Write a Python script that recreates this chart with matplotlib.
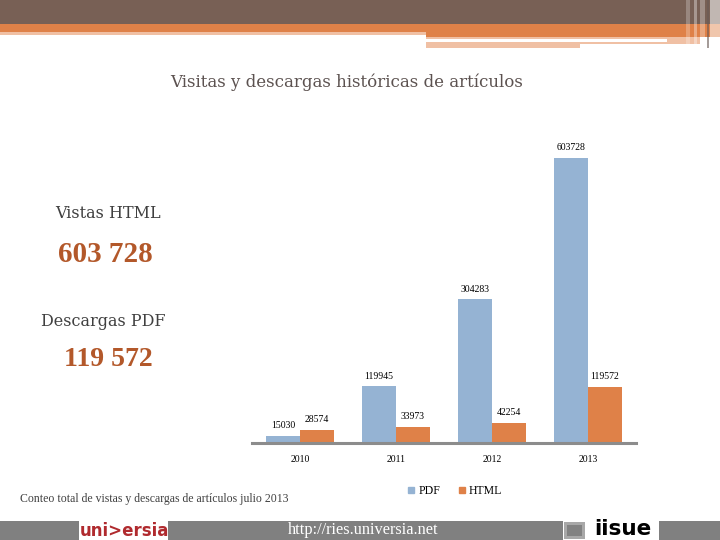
import matplotlib
matplotlib.use("Agg")
import numpy as np
import matplotlib.pyplot as plt
from matplotlib.patches import Rectangle
from matplotlib.lines import Line2D

# ===== Data =====
years = ["2010", "2011", "2012", "2013"]
pdf_vals = [15030, 119945, 304283, 603728]
html_vals = [28574, 33973, 42254, 119572]
title = "Visitas y descargas históricas de artículos"
caption = "Conteo total de vistas y descargas de artículos julio 2013"
total_html = "603 728"
total_pdf = "119 572"

# ===== Colors / fonts =====
BLUE = "#95b3d3"
ORANGE = "#df8148"
BROWN = "#786055"
PEACH = "#f0c0a4"
NUM_COLOR = "#b3582a"
SERIF = ["Liberation Serif", "DejaVu Serif"]
WIDE_SERIF = ["DejaVu Serif"]
W, H = 720, 540

fig = plt.figure(figsize=(7.2, 5.4), dpi=100)
fig.patch.set_facecolor("white")

# background axes in pixel coordinates (y down)
bg = fig.add_axes([0, 0, 1, 1])
bg.set_xlim(0, W)
bg.set_ylim(H, 0)
bg.axis("off")

def rect(x, y, w, h, c, **kw):
    bg.add_patch(Rectangle((x, y), w, h, facecolor=c, edgecolor="none", **kw))

# --- header bands ---
rect(0, 0, W, 24, BROWN)
rect(0, 24, 426, 8, ORANGE)
rect(0, 32, 426, 3, PEACH)
rect(426, 24, 294, 13, ORANGE)
rect(426, 37, 274, 7, PEACH)
rect(426, 39, 241, 2.5, "white")
rect(426, 44, 154, 3.5, PEACH)
# vertical stripes on the right
rect(686, 0, 4, 48, "white", alpha=0.25)
rect(694, 0, 3, 48, "white", alpha=0.35)
rect(700, 0, 5, 48, "white", alpha=0.3)
rect(707, 0, 1.5, 48, "#6a5a55", alpha=0.6)
rect(710, 0, 10, 48, "white", alpha=0.55)

# --- footer ---
rect(0, 521, W, 19, "#808080")
rect(79, 521, 89, 19, "white")
rect(563, 521, 96, 19, "white")
rect(564, 522, 21, 17, "#a8a8a8")
rect(567, 525, 15, 11, "#6a6a6a", alpha=0.6)
bg.text(124, 530.5, "uni>ersia", color="#b02a2e", fontsize=12, fontweight="bold",
        ha="center", va="center", family="DejaVu Sans")
bg.text(623, 529, "iisue", color="black", fontsize=15.5, fontweight="heavy",
        ha="center", va="center", family="DejaVu Sans")
bg.text(363, 530, "http://ries.universia.net", color="white", fontsize=11.8,
        ha="center", va="center", family=SERIF)

# --- texts ---
bg.text(347, 82, title, color="#5c5250", fontsize=12, ha="center", va="center",
        family=WIDE_SERIF)
bg.text(55, 214, "Vistas HTML", color="#404040", fontsize=11.5, ha="left",
        va="center", family=WIDE_SERIF)
bg.text(58, 254, total_html, color=NUM_COLOR, fontsize=21, fontweight="bold",
        ha="left", va="center", family=SERIF)
bg.text(41, 321, "Descargas PDF", color="#404040", fontsize=11.5, ha="left",
        va="center", family=WIDE_SERIF)
bg.text(64, 360, total_pdf, color=NUM_COLOR, fontsize=20, fontweight="bold",
        ha="left", va="center", family=SERIF)
bg.text(20, 499, caption, color="#404040", fontsize=8.5, ha="left",
        va="center", family=SERIF)

# ===== Chart =====
x0, x1, ybase, ytop = 252, 636, 443, 140
ax = fig.add_axes([x0 / W, 1 - ybase / H, (x1 - x0) / W, (ybase - ytop) / H])
ax.patch.set_alpha(0)
ymax = pdf_vals[-1] * (ybase - ytop) / (ybase - 158)
ax.set_ylim(0, ymax)
ax.set_xlim(-0.5, len(years) - 0.5)

x = np.arange(len(years))
bw = 0.355
b1 = ax.bar(x - bw / 2, pdf_vals, bw, color=BLUE, label="PDF")
b2 = ax.bar(x + bw / 2, html_vals, bw, color=ORANGE, label="HTML")
for bars in (b1, b2):
    for b in bars:
        ax.annotate(f"{int(b.get_height())}", (b.get_x() + b.get_width() / 2, b.get_height()),
                    xytext=(0, 4), textcoords="offset points", ha="center", va="bottom",
                    fontsize=7, family=SERIF, color="black")

for s in ("top", "right", "left"):
    ax.spines[s].set_visible(False)
ax.spines["bottom"].set_color("#8c8c8c")
ax.spines["bottom"].set_linewidth(2.2)
ax.set_yticks([])
ax.set_xticks(x)
ax.set_xticklabels(years, fontsize=7, family=SERIF)
ax.tick_params(axis="x", length=0, pad=9)

handles = [Line2D([], [], marker="s", linestyle="none", color=BLUE, markersize=4),
           Line2D([], [], marker="s", linestyle="none", color=ORANGE, markersize=4)]
fig.legend(handles, ["PDF", "HTML"], loc="center", bbox_to_anchor=(455 / W, 1 - 491 / H),
           ncol=2, frameon=False, handlelength=0.6, handletextpad=0.3, columnspacing=1.5,
           prop={"family": SERIF, "size": 8.5})

fig.savefig("out.png", dpi=100)
